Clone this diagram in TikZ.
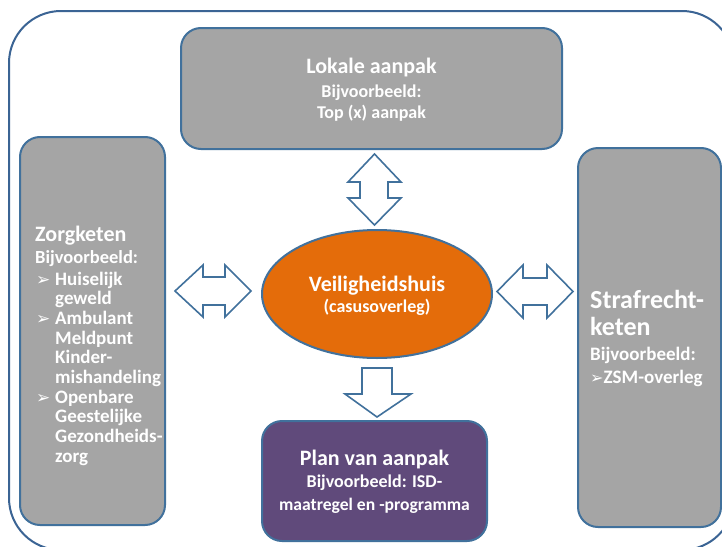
\documentclass[tikz,border=0pt]{standalone}
\usepackage{fontspec}
\setmainfont{Carlito}
\newfontfamily\symf{DejaVu Sans}
\usetikzlibrary{shapes.geometric}
\definecolor{frameblue}{HTML}{3B6494}
\definecolor{boxborder}{HTML}{41719C}
\definecolor{boxgray}{HTML}{A5A5A5}
\definecolor{vhorange}{HTML}{E46C0A}
\definecolor{planpurple}{HTML}{604A7B}
\newcommand\bul{\makebox[20pt][l]{\hspace{1pt}{\symf\fontsize{17}{17}\selectfont ➢}}}
\newcommand\ind{\hspace*{20pt}}
\tikzset{
  box/.style={draw=boxborder, line width=2pt, rounded corners=20pt, inner sep=0pt},
  gbox/.style={box, fill=boxgray},
  blockarrow/.style={draw=boxborder, line width=1.6pt, fill=white, line join=miter},
  txt/.style={inner sep=0pt, text=white, font=\bfseries},
}
\begin{document}
\begin{tikzpicture}[x=1pt,y=-1pt]
\useasboundingbox (0,0) rectangle (722,546);
\fill[white] (0,0) rectangle (722,546);
\draw[frameblue, line width=2pt, rounded corners=52pt] (9,11) rectangle (734,550);

% boxes
\node[gbox, minimum width=381pt, minimum height=121pt] (lokale) at (371.5,88.5) {};
\node[gbox, minimum width=145pt, minimum height=388pt] (zorg) at (92.5,331) {};
\node[gbox, minimum width=143pt, minimum height=379pt] (straf) at (649.5,337.5) {};
\node[box, fill=planpurple, minimum width=225pt, minimum height=120pt] (plan) at (374.5,481) {};
\node[ellipse, draw=boxborder, line width=2pt, fill=vhorange, minimum width=230pt, minimum height=128pt, inner sep=0pt] (vh) at (377,294) {};

% texts
\node[txt, anchor=base] (lokaletxt) at (371.5,73) {\parbox[t]{300pt}{\centering
  \fontsize{22}{24}\selectfont Lokale aanpak\par
  \fontsize{18}{24}\selectfont Bijvoorbeeld:\par
  \fontsize{18}{21}\selectfont Top (x) aanpak\par}};

\node[txt, anchor=base] (vhtxt) at (377,291) {\parbox[t]{200pt}{\centering
  \fontsize{22}{24}\selectfont Veiligheidshuis\par
  \fontsize{18}{21}\selectfont (casusoverleg)\par}};

\node[txt, anchor=base] (plantxt) at (374.5,465) {\parbox[t]{220pt}{\centering
  \fontsize{22}{24}\selectfont Plan van aanpak\par
  \fontsize{18}{22}\selectfont Bijvoorbeeld: ISD-\par
  \fontsize{17.6}{23}\selectfont maatregel en -programma\par}};

\node[txt, anchor=base west] (straftxt) at (590,308) {\parbox[t]{132pt}{\raggedright
  \fontsize{26}{27}\selectfont Strafrecht-\par
  keten\par
  \fontsize{19}{25}\selectfont Bijvoorbeeld:\par
  \fontsize{19}{23}\selectfont {\symf\fontsize{16}{16}\selectfont ➢}ZSM-overleg\par}};

\node[txt, anchor=base west] (zorgtxt) at (35,241) {\parbox[t]{128pt}{\raggedright
  \fontsize{22}{22}\selectfont Zorgketen\par
  \fontsize{18.5}{22}\selectfont Bijvoorbeeld:\par
  \fontsize{19}{22}\selectfont \bul Huiselijk\par
  \fontsize{19}{19.7}\selectfont \ind geweld\par
  \bul Ambulant\par
  \ind Meldpunt\par
  \ind Kinder-\par
  \ind mishandeling\par
  \bul Openbare\par
  \ind Geestelijke\par
  \ind Gezondheids-\par
  \ind zorg\par}};

% block arrows
\draw[blockarrow] (374.5,154) -- (401,182) -- (388,182) -- (388,198) -- (401,198) -- (374.5,225)
  -- (348,198) -- (360,198) -- (360,182) -- (348,182) -- cycle;
\draw[blockarrow] (175,291) -- (203,265) -- (203,277) -- (225,277) -- (225,265) -- (251,291)
  -- (225,317) -- (225,305) -- (203,305) -- (203,317) -- cycle;
\draw[blockarrow] (497,291.5) -- (523,265) -- (523,278) -- (547,278) -- (547,265) -- (573,291.5)
  -- (547,318) -- (547,305) -- (523,305) -- (523,318) -- cycle;
\draw[blockarrow] (362,368) -- (392,368) -- (392,394) -- (411,394) -- (377,417) -- (345,394)
  -- (362,394) -- cycle;
\end{tikzpicture}
\end{document}
